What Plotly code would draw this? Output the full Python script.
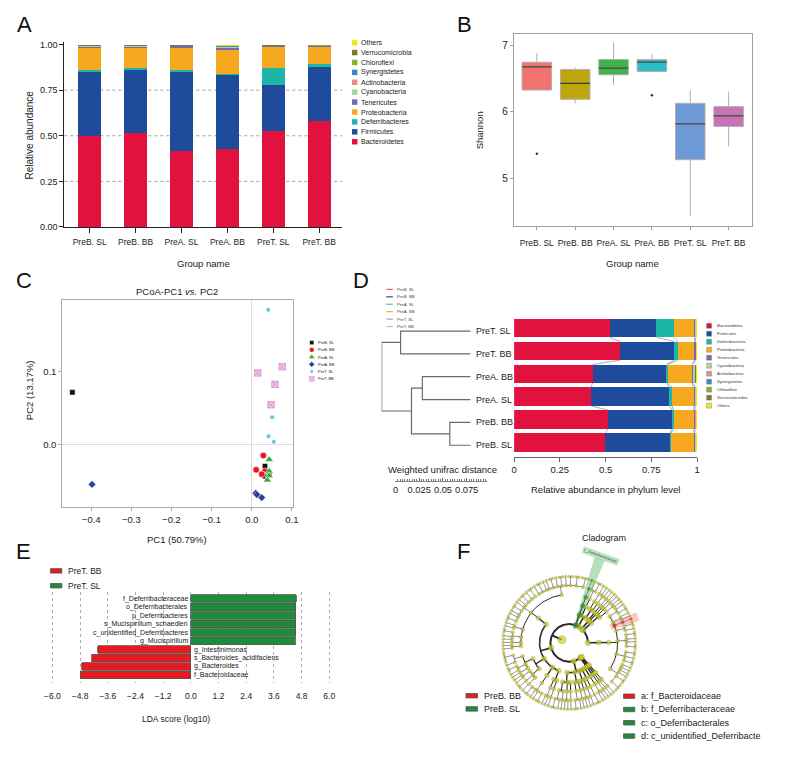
import numpy as np
import plotly.graph_objects as go

W, H = 792, 780
FONT = "Liberation Sans, Arial, Helvetica, sans-serif"
TXT = "#1a1a1a"


def px(x):
    return x / W


def py(y):
    return 1 - y / H


# ---------------- data ----------------
groups = ["PreB. SL", "PreB. BB", "PreA. SL", "PreA. BB", "PreT. SL", "PreT. BB"]

phyla = ["Bacteroidetes", "Firmicutes", "Deferribacteres", "Proteobacteria", "Tenericutes",
         "Cyanobacteria", "Actinobacteria", "Synergistetes", "Chloroflexi", "Verrucomicrobia", "Others"]
phyla_colors = ["#E2123F", "#1F4B9C", "#1DB5A8", "#F6A81E", "#7A68B0",
                "#A7D59C", "#F08A8C", "#3C86C6", "#7BB927", "#7C7A2B", "#F2E61B"]
bacteroidetes = [0.499, 0.514, 0.418, 0.430, 0.524, 0.580]
firmicutes = [0.353, 0.349, 0.431, 0.402, 0.254, 0.296]
deferribacteres = [0.007, 0.009, 0.014, 0.008, 0.096, 0.018]
proteobacteria = [0.123, 0.110, 0.119, 0.131, 0.112, 0.092]
tenericutes = [0.006, 0.007, 0.008, 0.008, 0.005, 0.006]
cyanobacteria = [0.004, 0.002, 0.002, 0.009, 0.001, 0.001]
actinobacteria = [0.001, 0.001, 0.001, 0.001, 0.001, 0.001]
synergistetes = [0.0005, 0.0005, 0.0005, 0.0005, 0.0005, 0.0005]
chloroflexi = [0.0005, 0.0005, 0.0005, 0.0005, 0.0005, 0.0005]
verrucomicrobia = [0.002, 0.002, 0.001, 0.003, 0.002, 0.001]
others = [0.004, 0.005, 0.005, 0.007, 0.004, 0.004]
phyla_values = [bacteroidetes, firmicutes, deferribacteres, proteobacteria, tenericutes,
                cyanobacteria, actinobacteria, synergistetes, chloroflexi, verrucomicrobia, others]
abund_ticks = [0.0, 0.25, 0.5, 0.75, 1.0]
abund_grid = [0.25, 0.5, 0.75]

# Shannon box statistics
shannon_q1 = [6.33, 6.19, 6.56, 6.61, 5.28, 5.78]
shannon_median = [6.68, 6.43, 6.66, 6.75, 5.82, 5.94]
shannon_q3 = [6.75, 6.64, 6.79, 6.79, 6.13, 6.08]
shannon_lower = [6.33, 6.13, 6.41, 6.61, 4.43, 5.48]
shannon_upper = [6.89, 6.67, 7.05, 6.87, 6.33, 6.31]
shannon_outlier_group = ["PreB. SL", "PreA. BB"]
shannon_outlier = [5.37, 6.25]
box_colors = ["#F0736E", "#BFA60A", "#3DB34A", "#2EBEC5", "#6E9AD8", "#C773B5"]

# PCoA
pcoa_group = ["PreB. SL"] * 4 + ["PreB. BB"] * 4 + ["PreA. SL"] * 4 + ["PreA. BB"] * 4 + ["PreT. SL"] * 4 + ["PreT. BB"] * 4
pcoa_pc1 = [-0.447, 0.033, 0.034, 0.0435,
            0.029, 0.011, 0.033, 0.025,
            0.0435, 0.0435, 0.0435, 0.039,
            -0.398, 0.010, 0.013, 0.025,
            0.041, 0.051, 0.042, 0.055,
            0.015, 0.076, 0.058, 0.048]
pcoa_pc2 = [0.072, -0.029, -0.043, -0.041,
            -0.0145, -0.034, -0.036, -0.040,
            -0.020, -0.036, -0.042, -0.048,
            -0.054, -0.066, -0.068, -0.072,
            0.185, 0.038, 0.012, 0.0045,
            0.0986, 0.107, 0.083, 0.055]
pcoa_symbols = ["square", "circle", "triangle-up", "diamond", "circle", "square-x"]
pcoa_colors = ["#111111", "#E8141C", "#3BAA35", "#2B3F9E", "#5BC8E0", "#F3C4EA"]
pcoa_edge = ["#ffffff", "#ffffff", "#ffffff", "#ffffff", "#ffffff", "#C97AB9"]
pcoa_sizes = [5.5, 6.5, 7.5, 6, 4.5, 6.5]
pcoa_xticks = [-0.4, -0.3, -0.2, -0.1, 0.0, 0.1]
pcoa_yticks = [0.0, 0.1]

# UPGMA tree (weighted unifrac) + phylum bars
d_order = ["PreT. SL", "PreT. BB", "PreA. BB", "PreA. SL", "PreB. BB", "PreB. SL"]
tree_left = [4, 2, 0, 7, 8]
tree_right = [5, 3, 1, 6, 9]
tree_height = [0.022, 0.051, 0.074, 0.0625, 0.094]
group_line_colors = ["#F0577A", "#3C3FA0", "#4CC3C3", "#F4B400", "#B594D6", "#A9D8A2"]
dist_ticks = [0, 0.025, 0.05, 0.075]
dist_labels = ["0", "0.025", "0.05", "0.075"]
rel_labels = ["0", "0.25", "0.5", "0.75", "1"]

# LEfSe LDA
lda_features = ["f_Deferribacteraceae", "o_Deferribacterales", "p_Deferribacteres",
                "s_Mucispirillum_schaedleri", "c_unidentified_Deferribacteres", "g_Mucispirillum",
                "g_Intestinimonas", "s_Bacteroides_acidifaciens", "g_Bacteroides", "f_Bacteroidaceae"]
lda_scores = [4.56, 4.55, 4.55, 4.55, 4.55, 4.52, -4.04, -4.29, -4.73, -4.80]
lda_group = ["PreT. SL"] * 6 + ["PreT. BB"] * 4
lda_legend = ["PreT. BB", "PreT. SL"]
lda_colors = ["#E8191F", "#1E8C3A"]
lda_ticks = [-6.0, -4.8, -3.6, -2.4, -1.2, 0.0, 1.2, 2.4, 3.6, 4.8, 6.0]

# Cladogram taxonomy (class -> order -> family -> species per genus)
clado_phyla = ["Bacteroidetes", "Tenericutes", "Cyanobacteria", "Actinobacteria", "Deferribacteres",
               "Firmicutes", "Proteobacteria", "Verrucomicrobia", "Synergistetes", "Chloroflexi"]
clado_bacteroidetes = {"Bacteroidia": {"Bacteroidales": {
    "Muribaculaceae": [3, 2, 1, 1, 1, 1], "Rikenellaceae": [2, 1, 2], "Prevotellaceae": [2, 1, 1, 2],
    "Tannerellaceae": [1, 2], "Bacteroidaceae": [1], "Marinifilaceae": [1, 1], "Barnesiellaceae": [2, 1]}}}
clado_tenericutes = {"Mollicutes": {"Anaeroplasmatales": {"Anaeroplasmataceae": [1, 1]},
                                    "Mollicutes_RF39": {"f_RF39": [1]}}}
clado_cyanobacteria = {"Melainabacteria": {"Gastranaerophilales": {"f_Gastranaerophilales": [1]}},
                       "Oxyphotobacteria": {"Chloroplast": {"f_Chloroplast": [1]}}}
clado_actinobacteria = {"Actinobacteria_c": {"Bifidobacteriales": {"Bifidobacteriaceae": [1, 1]},
                                             "Corynebacteriales": {"Corynebacteriaceae": [1]}},
                        "Coriobacteriia": {"Coriobacteriales": {"Eggerthellaceae": [2, 1]}}}
clado_deferribacteres = {"unidentified_Deferribacteres": {"Deferribacterales": {"Deferribacteraceae": [1]}}}
clado_firmicutes = {
    "Clostridia": {"Clostridiales": {"Lachnospiraceae": [3, 2, 2, 1, 2, 1, 2, 1, 1, 2, 1],
                                     "Ruminococcaceae": [2, 1, 2, 1, 1, 2, 1, 1, 2],
                                     "Peptostreptococcaceae": [1, 1], "Clostridiaceae": [2, 1, 1],
                                     "Christensenellaceae": [1], "Family_XIII": [1, 1]}},
    "Bacilli": {"Lactobacillales": {"Lactobacillaceae": [4, 1], "Streptococcaceae": [2, 1], "Enterococcaceae": [1]},
                "Bacillales": {"Staphylococcaceae": [1, 1], "Bacillaceae": [2], "Planococcaceae": [1]}},
    "Erysipelotrichia": {"Erysipelotrichales": {"Erysipelotrichaceae": [2, 1, 1, 2]}},
    "Negativicutes": {"Selenomonadales": {"Veillonellaceae": [1, 1]},
                      "Acidaminococcales": {"Acidaminococcaceae": [1]}}}
clado_proteobacteria = {
    "Gammaproteobacteria": {"Enterobacteriales": {"Enterobacteriaceae": [2, 1], "Morganellaceae": [1]},
                            "Pseudomonadales": {"Moraxellaceae": [1, 1]},
                            "Pasteurellales": {"Pasteurellaceae": [1]}},
    "Deltaproteobacteria": {"Desulfovibrionales": {"Desulfovibrionaceae": [2, 1]},
                            "Myxococcales": {"f_Myxococcales": [1]}},
    "Alphaproteobacteria": {"Rhizobiales": {"Rhizobiaceae": [1, 1]},
                            "Sphingomonadales": {"Sphingomonadaceae": [1]}},
    "Epsilonproteobacteria": {"Campylobacterales": {"Helicobacteraceae": [2]}},
    "Betaproteobacteria": {"Burkholderiales": {"Burkholderiaceae": [1, 1]}}}
clado_verrucomicrobia = {"Verrucomicrobiae": {"Verrucomicrobiales": {"Akkermansiaceae": [1]}}}
clado_synergistetes = {"Synergistia": {"Synergistales": {"Synergistaceae": [1]}}}
clado_chloroflexi = {"Anaerolineae": {"Anaerolineales": {"Anaerolineaceae": [1]}}}
clado_subtrees = [clado_bacteroidetes, clado_tenericutes, clado_cyanobacteria, clado_actinobacteria,
                  clado_deferribacteres, clado_firmicutes, clado_proteobacteria, clado_verrucomicrobia,
                  clado_synergistetes, clado_chloroflexi]
clado_marker_names = ["Bacteroidaceae", "Deferribacteres"]
clado_marker_colors = ["#E8191F", "#1E8C3A"]
clado_marker_fill = ["rgba(240,70,70,0.30)", "rgba(60,175,80,0.38)"]
clado_marker_outer = [74, 90]
clado_legend_groups = ["PreB. BB", "PreB. SL"]
clado_keys = ["a: f_Bacteroidaceae", "b: f_Deferribacteraceae", "c: o_Deferribacterales",
              "d: c_unidentified_Deferribacte"]
clado_key_colors = ["#E8191F", "#1E8C3A", "#1E8C3A", "#1E8C3A"]

# cladogram layout settings
clado_radius = [8, 19, 30, 40, 49, 58, 67]
clado_node_size = [8, 5.5, 5, 4.5, 3.8, 3.2, 2.6]
clado_line_width = [2.0, 1.6, 1.3, 1.0, 0.7, 0.6]
clado_start_angle = -46.6

# ---------------- figure ----------------
fig = go.Figure()
annotations = []
shapes = []


def note(x, y, text, size, xanchor="center", yanchor="middle", angle=0, color=TXT, **kw):
    annotations.append(dict(x=px(x), y=py(y), xref="paper", yref="paper", text=text, showarrow=False,
                            font=dict(family=FONT, size=size, color=color), xanchor=xanchor,
                            yanchor=yanchor, textangle=angle, **kw))


def rect(x0, x1, yc, h, color, line="#555", lw=0.8):
    shapes.append(dict(type="rect", xref="paper", yref="paper", x0=px(x0), x1=px(x1),
                       y0=py(yc + h / 2), y1=py(yc - h / 2), fillcolor=color,
                       line=dict(color=line, width=lw)))


# ---- A: stacked bars ----
xi = list(range(len(groups)))
for name, vals, col in zip(phyla, phyla_values, phyla_colors):
    fig.add_trace(go.Bar(x=xi, y=vals, width=0.5, marker=dict(color=col, line=dict(width=0)),
                         xaxis="x", yaxis="y", hoverinfo="skip"))
for g in abund_grid:
    shapes.append(dict(type="line", xref="x domain", yref="y", x0=0, x1=1, y0=g, y1=g, layer="below",
                       line=dict(color="#8c8c8c", width=0.8, dash="dot")))
for k, (name, col) in enumerate(zip(phyla[::-1], phyla_colors[::-1])):
    yy = 41 + 10 * k
    rect(353, 358.5, yy, 5.5, col, line=col, lw=0)
    note(360.5, yy, name, 7, xanchor="left")

# ---- B: Shannon boxes ----
for i, g in enumerate(groups):
    fig.add_trace(go.Box(x=[i], q1=[shannon_q1[i]], median=[shannon_median[i]], q3=[shannon_q3[i]],
                         lowerfence=[shannon_lower[i]], upperfence=[shannon_upper[i]], width=0.77,
                         whiskerwidth=0, fillcolor=box_colors[i], line=dict(color="#b0b0b0", width=1),
                         boxpoints=False, xaxis="x2", yaxis="y2", hoverinfo="skip"))
mx, my = [], []
for i, m in enumerate(shannon_median):
    mx += [i - 0.385, i + 0.385, None]
    my += [m, m, None]
fig.add_trace(go.Scatter(x=mx, y=my, mode="lines", line=dict(color="#3c3c3c", width=1.2),
                         xaxis="x2", yaxis="y2", hoverinfo="skip"))
fig.add_trace(go.Scatter(x=[groups.index(g) for g in shannon_outlier_group], y=shannon_outlier,
                         mode="markers", marker=dict(size=2.5, color="#333"), xaxis="x2", yaxis="y2"))

# ---- C: PCoA ----
for g, sym, col, edge, sz in zip(groups, pcoa_symbols, pcoa_colors, pcoa_edge, pcoa_sizes):
    xs = [v for v, gg in zip(pcoa_pc1, pcoa_group) if gg == g]
    ys = [v for v, gg in zip(pcoa_pc2, pcoa_group) if gg == g]
    fig.add_trace(go.Scatter(x=xs, y=ys, mode="markers",
                             marker=dict(symbol=sym, color=col, size=sz, line=dict(color=edge, width=0.6)),
                             xaxis="x3", yaxis="y3", hoverinfo="skip"))
for k, (g, sym, col, edge, sz) in enumerate(zip(groups, pcoa_symbols, pcoa_colors, pcoa_edge, pcoa_sizes)):
    yy = 343.7 + 7.3 * k
    fig.add_trace(go.Scatter(x=[312.3], y=[yy], mode="markers",
                             marker=dict(symbol=sym, color=col, size=sz * 0.75, line=dict(color=edge, width=0.4)),
                             xaxis="x9", yaxis="y9", hoverinfo="skip"))
    note(316.5, yy, g, 4, xanchor="left")

# ---- D: tree + phylum bars ----
rows = [len(d_order) - 1 - p for p in range(len(d_order))]
d_idx = [groups.index(g) for g in d_order]
for name, vals, col in zip(phyla, phyla_values, phyla_colors):
    fig.add_trace(go.Bar(y=rows, x=[vals[i] for i in d_idx], orientation="h", width=0.81,
                         marker=dict(color=col, line=dict(width=0)), xaxis="x4", yaxis="y4",
                         hoverinfo="skip"))
cum = np.cumsum(np.array(phyla_values)[:, d_idx], axis=0)
lx, ly = [], []
for p in range(len(d_order) - 1):
    for k in range(5):
        lx += [cum[k, p], cum[k, p + 1], None]
        ly += [rows[p] - 0.405, rows[p + 1] + 0.405, None]
fig.add_trace(go.Scatter(x=lx, y=ly, mode="lines", line=dict(color="#8a8a8a", width=0.7),
                         xaxis="x4", yaxis="y4", hoverinfo="skip"))

node_y = {i: rows[i] for i in range(len(d_order))}
node_h = {i: 0.0 for i in range(len(d_order))}
tx, ty = [], []
for k, (a, b, h) in enumerate(zip(tree_left, tree_right, tree_height)):
    nid = len(d_order) + k
    tx += [node_h[a], h, h, node_h[b], None]
    ty += [node_y[a], node_y[a], node_y[b], node_y[b], None]
    node_y[nid] = (node_y[a] + node_y[b]) / 2
    node_h[nid] = h
fig.add_trace(go.Scatter(x=tx, y=ty, mode="lines", line=dict(color="#6b6b6b", width=1.2),
                         xaxis="x5", yaxis="y5", hoverinfo="skip"))
for p, g in enumerate(d_order):
    annotations.append(dict(x=0, y=rows[p], xref="x5", yref="y5", text=g, showarrow=False,
                            xanchor="left", xshift=3, font=dict(family=FONT, size=9, color=TXT)))
# invisible carrier for the distance ruler axis
fig.add_trace(go.Scatter(x=[0, 0.0969], y=[0.5, 0.5], mode="markers", marker=dict(opacity=0),
                         xaxis="x6", yaxis="y6", hoverinfo="skip"))
for k, (g, col) in enumerate(zip(groups, group_line_colors)):
    yy = 290 + 7.5 * k
    shapes.append(dict(type="line", xref="paper", yref="paper", x0=px(387.7), x1=px(394.3),
                       y0=py(yy), y1=py(yy), line=dict(color=col, width=1.2)))
    note(396.5, yy, g, 4.3, xanchor="left", color="#444")
for k, (name, col) in enumerate(zip(phyla, phyla_colors)):
    yy = 326.7 + 8.06 * k
    rect(711.7, 716.7, yy, 5, col, line="#777", lw=0.4)
    note(720.5, yy, name, 4.2, xanchor="left", color="#333")
note(445, 472, "Weighted unifrac distance", 9.5)
note(609, 492, "Relative abundance in phylum level", 9.5)

# ---- E: LDA ----
for grp, col in zip(lda_legend, lda_colors):
    ys = [i for i, gg in enumerate(lda_group) if gg == grp]
    fig.add_trace(go.Bar(y=ys, x=[lda_scores[i] for i in ys], orientation="h", width=0.88,
                         marker=dict(color=col, line=dict(color="#555", width=0.8)),
                         xaxis="x7", yaxis="y7", hoverinfo="skip"))
for i, (f, s) in enumerate(zip(lda_features, lda_scores)):
    annotations.append(dict(x=0, y=i, xref="x7", yref="y7", text=f, showarrow=False,
                            xanchor="right" if s > 0 else "left", xshift=-2 if s > 0 else 2.5,
                            borderpad=0, font=dict(family=FONT, size=7, color=TXT)))
for k, (grp, col) in enumerate(zip(lda_legend, lda_colors)):
    yy = 574 + 15 * k
    rect(48, 59.5, yy, 4.5, col)
    note(64, yy, grp, 8.5, xanchor="left")
note(175, 723, "LDA score (log10)", 8.5)

# ---- F: cladogram ----
def build(name, level, sub):
    node = dict(name=name, level=level, children=[])
    if isinstance(sub, dict):
        for k, v in sub.items():
            node["children"].append(build(k, level + 1, v))
    else:
        for gi, n in enumerate(sub):
            gnode = dict(name=f"{name}_g{gi}", level=level + 1,
                         children=[dict(name=f"{name}_g{gi}_s{si}", level=level + 2, children=[])
                                   for si in range(n)])
            node["children"].append(gnode)
    return node


root = dict(name="Bacteria", level=0, children=[build(p, 1, s) for p, s in zip(clado_phyla, clado_subtrees)])
leaves, allnodes = [], []


def collect(n):
    allnodes.append(n)
    if not n["children"]:
        leaves.append(n)
    for c in n["children"]:
        collect(c)


collect(root)
step = 360.0 / len(leaves)
for i, lf in enumerate(leaves):
    lf["theta"] = clado_start_angle + (i + 0.5) * step


def set_theta(n):
    if n["children"]:
        for c in n["children"]:
            set_theta(c)
        n["theta"] = (n["children"][0]["theta"] + n["children"][-1]["theta"]) / 2


set_theta(root)

seg = {lv: ([], []) for lv in range(6)}


def draw(n):
    if not n["children"]:
        return
    lv = n["level"]
    r0, r1 = clado_radius[lv], clado_radius[lv + 1]
    t = np.radians(n["theta"])
    X, Y = seg[lv]
    X += [r0 * np.cos(t), r1 * np.cos(t), None]
    Y += [r0 * np.sin(t), r1 * np.sin(t), None]
    if len(n["children"]) > 1:
        a0, a1 = n["children"][0]["theta"], n["children"][-1]["theta"]
        a = np.radians(np.linspace(a0, a1, max(3, int(abs(a1 - a0) / 1.5) + 2)))
        X += list(r1 * np.cos(a)) + [None]
        Y += list(r1 * np.sin(a)) + [None]
    for c in n["children"]:
        draw(c)


draw(root)
for lv in range(6):
    X, Y = seg[lv]
    fig.add_trace(go.Scatter(x=X, y=Y, mode="lines",
                             line=dict(color="#2a2a2a" if lv < 4 else "#555555", width=clado_line_width[lv]),
                             xaxis="x8", yaxis="y8", hoverinfo="skip"))

node_color = {id(n): "#CFD21E" for n in allnodes}


def subtree(n):
    out = [n]
    for c in n["children"]:
        out += subtree(c)
    return out


for mname, mcol, mfill, mout in zip(clado_marker_names, clado_marker_colors, clado_marker_fill, clado_marker_outer):
    target = [n for n in allnodes if n["name"] == mname][0]
    sub = subtree(target)
    for n in sub:
        node_color[id(n)] = mcol
    lth = [n["theta"] for n in sub if not n["children"]]
    a0, a1 = min(lth) - max(step / 2, 3.2), max(lth) + max(step / 2, 3.2)
    rin = clado_radius[target["level"]] - 4
    a = np.radians(np.linspace(a0, a1, 12))
    wx = list(rin * np.cos(a)) + list(mout * np.cos(a[::-1])) + [rin * np.cos(a[0])]
    wy = list(rin * np.sin(a)) + list(mout * np.sin(a[::-1])) + [rin * np.sin(a[0])]
    fig.add_trace(go.Scatter(x=wx, y=wy, mode="lines", fill="toself", fillcolor=mfill,
                             line=dict(color=mfill, width=0.5), xaxis="x8", yaxis="y8", hoverinfo="skip"))

nx = [clado_radius[n["level"]] * np.cos(np.radians(n["theta"])) for n in allnodes]
ny = [clado_radius[n["level"]] * np.sin(np.radians(n["theta"])) for n in allnodes]
fig.add_trace(go.Scatter(x=nx, y=ny, mode="markers",
                         marker=dict(size=[clado_node_size[n["level"]] for n in allnodes],
                                     color=[node_color[id(n)] for n in allnodes],
                                     line=dict(color="#6a6a30", width=0.4)),
                         xaxis="x8", yaxis="y8", hoverinfo="skip"))
defer_theta = np.radians([n for n in allnodes if n["name"] == "Deferribacteres"][0]["theta"])
annotations.append(dict(x=93 * np.cos(defer_theta), y=93 * np.sin(defer_theta), xref="x8", yref="y8",
                        text="f__Deferribacteraceae", showarrow=False, textangle=20,
                        bgcolor="rgba(60,175,80,0.35)", font=dict(family=FONT, size=3.5, color="#333")))
note(608, 541, "Cladogram", 9)
for k, (g, col) in enumerate(zip(clado_legend_groups, [clado_key_colors[0], clado_key_colors[1]])):
    yy = 700 + 13.3 * k
    rect(468.3, 480, yy, 4.5, col)
    note(484.5, yy, g, 9, xanchor="left")
for k, (t, col) in enumerate(zip(clado_keys, clado_key_colors)):
    yy = 700.5 + 13.4 * k
    rect(627.7, 639, yy, 4.5, col)
    note(643, yy, t, 9, xanchor="left")

# ---- titles / labels ----
for letter, x, y in [("A", 22, 23), ("B", 467, 23), ("C", 21, 281), ("D", 362, 281), ("E", 21, 554), ("F", 466, 554)]:
    note(x, y, letter, 22, color="#111")
note(203, 264, "Group name", 9.5)
note(637, 264, "Group name", 9.5)
note(27, 134, "Relative abundance", 10, angle=-90)
note(482, 130, "Shannon", 9.5, angle=-90)
note(176, 292, "PCoA-PC1 <i>vs.</i> PC2", 9.5)
note(27, 392, "PC2 (13.17%)", 9.5, angle=-90)
note(176, 542, "PC1 (50.79%)", 9.5)

tf = lambda s: dict(family=FONT, size=s, color="#222")
fig.update_layout(
    width=W, height=H, margin=dict(l=0, r=0, t=0, b=0), paper_bgcolor="white",
    plot_bgcolor="rgba(0,0,0,0)", showlegend=False, barmode="stack", bargap=0,
    font=dict(family=FONT, color=TXT), hovermode=False,
    xaxis=dict(domain=[px(62), px(343)], range=[-0.554, 5.5], anchor="y", tickmode="array", tickvals=xi,
               ticktext=groups, tickangle=0, showline=True, linecolor="#222", ticks="outside", ticklen=5,
               tickcolor="#222", showgrid=False, zeroline=False, tickfont=tf(8.5), ticklabelstandoff=2),
    yaxis=dict(domain=[py(227), py(40)], range=[0, 1.016], anchor="x", tickmode="array", tickvals=abund_ticks,
               tickformat=".2f", showline=True, linecolor="#222", ticks="outside", ticklen=4, tickcolor="#222",
               showgrid=False, zeroline=False, tickfont=tf(9)),
    xaxis2=dict(domain=[px(516.7), px(758)], range=[-0.6, 5.62], anchor="y2", tickmode="array", tickvals=xi,
                ticktext=groups, tickangle=0, showline=True, mirror=True, linecolor="#a0a0a0", ticks="outside",
                ticklen=3, tickcolor="#a0a0a0", showgrid=False, zeroline=False, tickfont=tf(8.5),
                ticklabelstandoff=6),
    yaxis2=dict(domain=[py(226), py(32)], range=[4.28, 7.18], anchor="x2", tickmode="array", tickvals=[5, 6, 7],
                showline=True, mirror=True, linecolor="#a0a0a0", ticks="outside", ticklen=3, tickcolor="#a0a0a0",
                showgrid=False, zeroline=False, tickfont=tf(10)),
    xaxis3=dict(domain=[px(60), px(293)], range=[-0.472, 0.102], anchor="y3", tickmode="array",
                tickvals=pcoa_xticks, tickformat=".1f", tickangle=0, showline=True, mirror=True,
                linecolor="#aaaaaa", ticks="outside", ticklen=3, tickcolor="#aaaaaa", showgrid=False,
                zeroline=True, zerolinecolor="#dddddd", zerolinewidth=1, tickfont=tf(9.5)),
    yaxis3=dict(domain=[py(510), py(301)], range=[-0.0855, 0.198], anchor="x3", tickmode="array",
                tickvals=pcoa_yticks, tickformat=".1f", showline=True, mirror=True, linecolor="#aaaaaa",
                ticks="outside", ticklen=3, tickcolor="#aaaaaa", showgrid=False, zeroline=True,
                zerolinecolor="#dddddd", zerolinewidth=1, tickfont=tf(9.5)),
    xaxis4=dict(domain=[px(517), px(702)], range=[0, 1.0], anchor="y4", tickmode="array",
                tickvals=abund_ticks, ticktext=rel_labels, tickangle=0, showline=True, linecolor="#666",
                ticks="outside", ticklen=4, tickcolor="#666", showgrid=False, zeroline=False, tickfont=tf(9.5)),
    yaxis4=dict(domain=[py(459), py(317.5)], range=[-0.64, 5.5], anchor="x4", visible=False),
    xaxis5=dict(domain=[px(383), px(473)], range=[0.094, 0], anchor="y5", visible=False),
    yaxis5=dict(domain=[py(462), py(320.5)], range=[-0.64, 5.5], anchor="x5", visible=False),
    xaxis6=dict(domain=[px(397), px(490)], range=[0, 0.0969], anchor="y6", tickmode="array",
                tickvals=dist_ticks, ticktext=dist_labels, tickangle=0, ticks="inside", ticklen=3,
                tickcolor="#666", minor=dict(dtick=0.0025, tick0=0, ticklen=2, ticks="inside", tickcolor="#777"),
                showline=True, linecolor="#666", linewidth=0.8, showgrid=False, zeroline=False,
                tickfont=tf(9.3)),
    yaxis6=dict(domain=[py(483), py(479)], range=[0, 1], anchor="x6", visible=False),
    xaxis7=dict(domain=[px(43), px(337)], range=[-6.3, 6.3], anchor="y7", tickmode="array",
                tickvals=lda_ticks, tickformat=".1f", tickangle=0, showgrid=True, gridcolor="#9a9a9a",
                griddash="dot", gridwidth=0.8, ticks="", showline=False, zeroline=False, tickfont=tf(8.5),
                ticklabelstandoff=7),
    yaxis7=dict(domain=[py(687), py(595)], range=[9.93, -0.82], anchor="x7", visible=False),
    xaxis8=dict(domain=[px(472.7), px(672.7)], range=[-100, 100], anchor="y8", visible=False),
    yaxis8=dict(domain=[py(746.7), py(546.7)], range=[-100, 100], anchor="x8", visible=False),
    xaxis9=dict(domain=[0, 1], range=[0, W], anchor="y9", visible=False),
    yaxis9=dict(domain=[0, 1], range=[H, 0], anchor="x9", visible=False),
    annotations=annotations, shapes=shapes,
)

fig.write_html("out.html", config={"displayModeBar": False, "staticPlot": True},
               post_script="document.body.style.margin='0px';document.body.style.overflow='hidden';")
